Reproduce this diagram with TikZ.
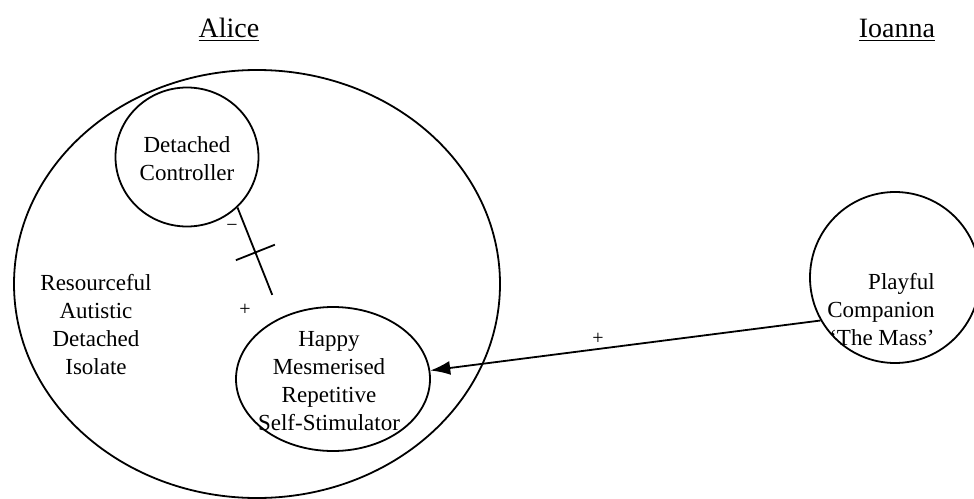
\documentclass[tikz,border=0pt]{standalone}
\usepackage{fontspec}
\setmainfont{Liberation Serif}
\usetikzlibrary{shapes.geometric,arrows.meta}

\begin{document}
\begin{tikzpicture}[
  x=0.5pt, y=-0.5pt,
  circ/.style={draw, ellipse, line width=0.9pt, inner sep=0pt},
  txt/.style={align=center, font=\fontsize{11.5}{14}\selectfont},
  ttl/.style={font=\fontsize{14}{16}\selectfont},
  sgn/.style={font=\fontsize{10}{10}\selectfont, inner sep=1pt},
  assoc/.style={-{Latex[length=10pt,width=7pt]}, line width=0.9pt},
  inhib/.style={line width=0.9pt, shorten >=12pt},
  crossbar/.style={draw, line width=0.9pt, inner sep=0pt, minimum width=0pt, minimum height=21pt}
]
\useasboundingbox (0,0) rectangle (974,498);

% --- Alice ---
\node[ttl] (alice) at (229,30) {\underline{Alice}};
\node[circ, minimum width=243pt, minimum height=214pt] (rad) at (257,284) {};
\node[txt] (radt) at (96,325) {Resourceful\\Autistic\\Detached\\Isolate};

% Detached Controller
\node[circ, minimum width=71.5pt, minimum height=69.5pt] (dc) at (187,157) {};
\node[txt] (dct) at (187,159) {Detached\\Controller};

% Happy Mesmerised
\node[circ, minimum width=97pt, minimum height=72pt] (hm) at (333,379) {};
\node[txt] (hmt) at (329,381) {Happy\\Mesmerised\\Repetitive\\Self-Stimulator};

% --- Ioanna ---
\node[ttl] (ioanna) at (897,30) {\underline{Ioanna}};
\node[circ, minimum width=85pt, minimum height=85.5pt] (pc) at (895,277.5) {};
\node[txt, align=right] (pct) at (881,310) {Playful\\Companion\\‘The Mass’};

% signs
\node[sgn] (neg) at (232,228) {−};
\node[sgn] (pos) at (245,310) {+};

% connectors
\draw[inhib] (dc.-45) -- (hm.130) node[crossbar, pos=0.41, sloped] (bar) {};
\draw[assoc] (pc.210) -- (hm.5) node[sgn, pos=0.57, above=1pt] (plus) {+};
\end{tikzpicture}
\end{document}
